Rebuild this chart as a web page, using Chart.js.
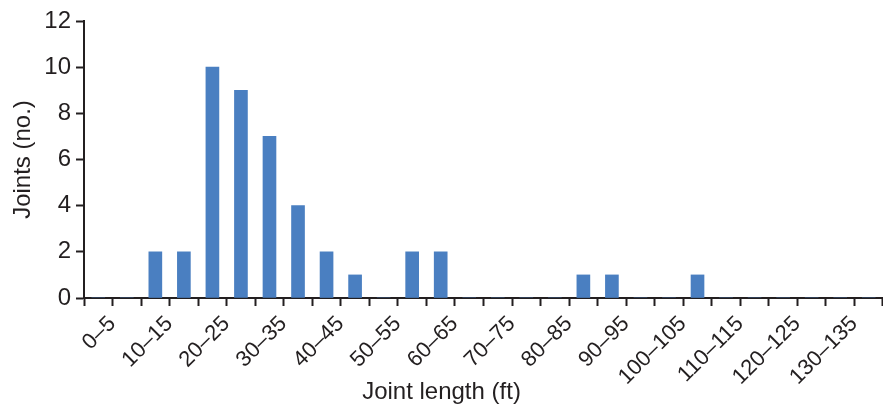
<!DOCTYPE html>
<html>
<head>
<meta charset="utf-8">
<script src="https://cdn.jsdelivr.net/npm/chart.js@4"></script>
<style>
  html, body { margin: 0; padding: 0; background: #fff; }
  #wrap { width: 883px; height: 405px; }
</style>
</head>
<body>
<div id="wrap"><canvas id="jointChart" width="883" height="405"></canvas></div>
<script>
// classes de comprimento (ft)
const classes = ['0–5', '5–10', '10–15', '15–20', '20–25', '25–30', '30–35', '35–40',
  '40–45', '45–50', '50–55', '55–60', '60–65', '65–70', '70–75', '75–80', '80–85',
  '85–90', '90–95', '95–100', '100–105', '105–110', '110–115', '115–120', '120–125',
  '125–130', '130–135', '135–140'];
// quantidade de juntas por classe
const juntas = [0, 0, 2, 2, 10, 9, 7, 4, 2, 1, 0, 2, 2, 0, 0, 0, 0,
  1, 1, 0, 0, 1, 0, 0, 0, 0, 0, 0];
const yTicks = [0, 2, 4, 6, 8, 10, 12];
const xTitle = 'Joint length (ft)';

const ink = '#231f20';
const fonte = 'Liberation Sans, Arial, sans-serif';

// titulo do eixo x centralizado na figura inteira (nao so na area do grafico)
const tituloX = {
    id: 'tituloX',
    afterDraw(chart) {
        const c = chart.ctx;
        c.save();
        c.fillStyle = ink;
        c.font = '24px ' + fonte;
        c.textAlign = 'center';
        c.textBaseline = 'alphabetic';
        c.fillText(xTitle, chart.width / 2, 399);
        c.restore();
    }
};

const ctx = document.getElementById('jointChart').getContext('2d');
const jointChart = new Chart(ctx, {
    type: 'bar',
    data: {
        labels: classes,
        datasets: [{
            label: 'Joints',
            data: juntas,
            backgroundColor: '#4a7fc1',
            barThickness: 13
        }]
    },
    options: {
        responsive: false,
        animation: false,
        layout: { padding: { left: 0, right: -3, top: 21, bottom: 0 } },
        plugins: { legend: { display: false }, tooltip: { enabled: false } },
        scales: {
            x: {
                offset: true,
                grid: {
                    offset: true,
                    drawOnChartArea: false,
                    drawTicks: true,
                    tickLength: 8,
                    tickWidth: 2,
                    tickColor: ink
                },
                border: { display: true, color: ink, width: 2 },
                ticks: {
                    autoSkip: false,
                    maxRotation: 45,
                    minRotation: 45,
                    labelOffset: 14,
                    padding: 5,
                    color: ink,
                    font: { family: fonte, size: 22 },
                    callback: (v, i) => (i % 2 === 0 ? classes[i] : '')
                },
                afterFit: s => {
                    s.height = 107;
                    s.paddingLeft = 0;
                    s.paddingRight = 0;
                }
            },
            y: {
                min: 0,
                max: 12,
                afterBuildTicks: s => { s.ticks = yTicks.map(v => ({ value: v })); },
                grid: {
                    drawOnChartArea: false,
                    drawTicks: true,
                    tickLength: 8,
                    tickWidth: 2,
                    tickColor: ink
                },
                border: { display: true, color: ink, width: 2 },
                ticks: {
                    padding: 5,
                    color: ink,
                    font: { family: fonte, size: 24 }
                },
                title: {
                    display: true,
                    text: 'Joints (no.)',
                    color: ink,
                    font: { family: fonte, size: 24 },
                    padding: { top: 9, bottom: 0 }
                },
                afterFit: s => { s.width = 84; }
            }
        }
    },
    plugins: [tituloX]
});
</script>
</body>
</html>
